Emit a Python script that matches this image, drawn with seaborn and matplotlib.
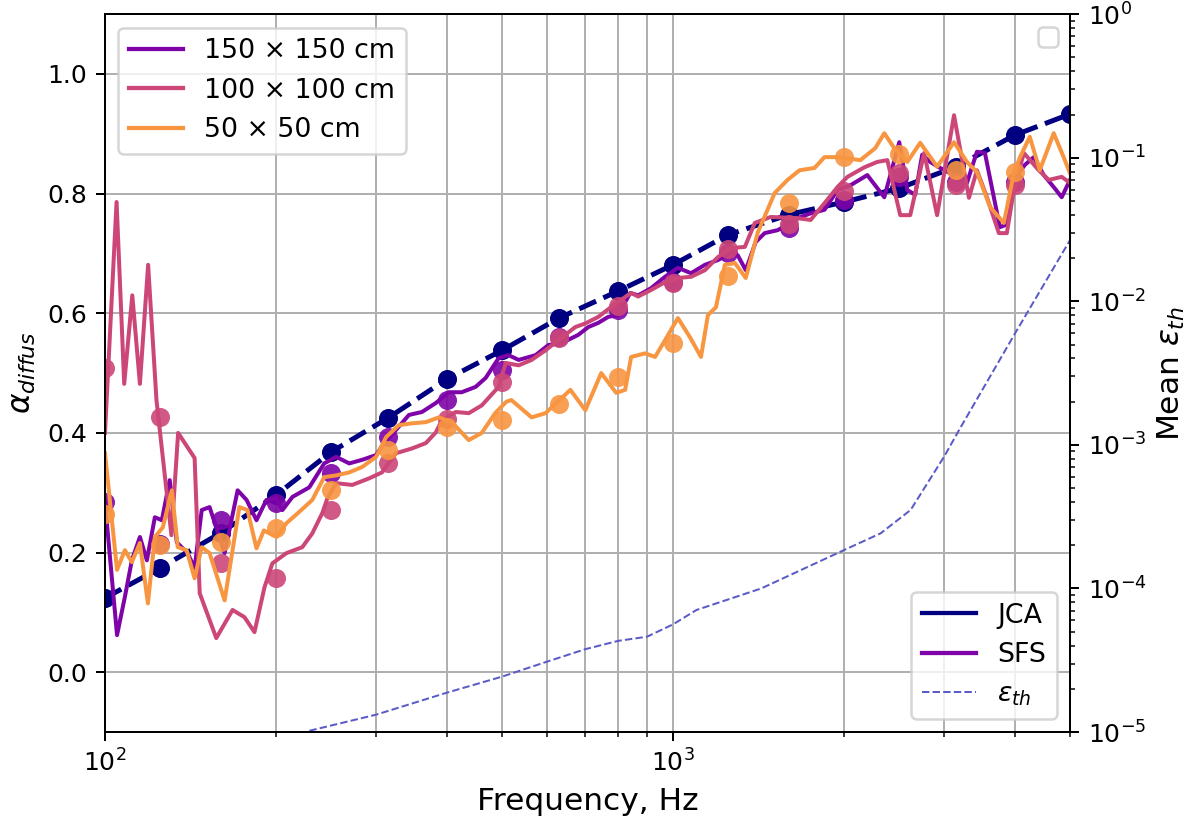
import numpy as np
import pandas as pd
import matplotlib
matplotlib.use("Agg")
import matplotlib.pyplot as plt
import seaborn as sns
from matplotlib.lines import Line2D

# ---------------- data ----------------
bands = [100, 125, 160, 200, 250, 315, 400, 500, 630, 800, 1000, 1250, 1600,
         2000, 2500, 3150, 4000, 5000]
jca = [0.124, 0.174, 0.233, 0.296, 0.368, 0.425, 0.490, 0.538, 0.592, 0.637,
       0.681, 0.731, 0.765, 0.786, 0.809, 0.845, 0.898, 0.933]

bands_sz = [100, 125, 160, 200, 250, 315, 400, 500, 630, 800, 1000, 1250, 1600,
            2000, 2500, 3150, 4000]
dots150 = [0.284, 0.215, 0.254, 0.282, 0.333, 0.393, 0.455, 0.505, 0.560, 0.605,
           0.652, 0.700, 0.742, 0.790, 0.828, 0.820, 0.820]
dots100 = [0.508, 0.427, 0.183, 0.157, 0.271, 0.349, 0.423, 0.485, 0.558, 0.612,
           0.651, 0.707, 0.750, 0.805, 0.834, 0.814, 0.814]
dots50 = [0.265, 0.212, 0.218, 0.241, 0.304, 0.371, 0.410, 0.421, 0.448, 0.493,
          0.551, 0.662, 0.784, 0.861, 0.867, 0.839, 0.836]

f150 = [100, 105.0, 108.4, 111.5, 115.2, 118.5, 122.4, 125.9, 130.0, 133.8, 139.8,
        143.8, 148.0, 152.8, 162.4, 171.2, 177.5, 184.8, 192.4, 200.4, 205.3, 213.8,
        228.9, 243.2, 255.3, 269.1, 283.6, 300.1, 309.9, 325.3, 342.8, 361.4, 382.4,
        402.9, 424.6, 449.3, 468.0, 493.2, 513.4, 534.9, 572.8, 603.6, 636.3, 681.4,
        709.5, 738.8, 769.1, 800.8, 840.6, 868.2, 915.1, 968.2, 1020, 1076, 1138,
        1200, 1265, 1300, 1343, 1398, 1450, 1529, 1677, 1747, 1848, 1948, 2053, 2198,
        2355, 2502, 2585, 2669, 2746, 2836, 2953, 3162, 3292, 3428, 3541, 3762, 3839,
        3981, 4163, 4317, 4495, 4680, 4834, 5000]
v150 = [0.284, 0.062, 0.126, 0.187, 0.226, 0.187, 0.259, 0.254, 0.321, 0.217, 0.199,
        0.174, 0.271, 0.276, 0.199, 0.304, 0.288, 0.254, 0.288, 0.290, 0.271, 0.293,
        0.309, 0.349, 0.360, 0.349, 0.355, 0.363, 0.383, 0.405, 0.430, 0.435, 0.450,
        0.468, 0.468, 0.477, 0.492, 0.525, 0.530, 0.522, 0.530, 0.547, 0.550, 0.564,
        0.577, 0.584, 0.594, 0.597, 0.634, 0.630, 0.642, 0.661, 0.676, 0.667, 0.681,
        0.689, 0.701, 0.697, 0.672, 0.719, 0.734, 0.739, 0.761, 0.767, 0.773, 0.806,
        0.814, 0.831, 0.794, 0.886, 0.806, 0.798, 0.865, 0.853, 0.843, 0.828, 0.818,
        0.870, 0.868, 0.744, 0.747, 0.823, 0.848, 0.861, 0.831, 0.811, 0.794, 0.823]

f100 = [100, 104.8, 108.1, 111.7, 115.2, 119.1, 123.2, 130.9, 134.5, 143.8, 146.8,
        157, 167.7, 176, 183.3, 190.9, 197.1, 208.6, 222.5, 231.7, 241.3, 246.2,
        255.3, 272.4, 291.7, 307.4, 325.3, 347.1, 367.2, 382.4, 391.8, 414.5, 436.9,
        460.6, 493.2, 507.4, 534.9, 563.6, 596.4, 633.8, 673.1, 701, 738.8, 794.3,
        843.9, 868.2, 915.1, 968.2, 1020, 1076, 1138, 1200, 1265, 1338, 1393, 1486,
        1657, 1747, 1848, 1948, 2028, 2172, 2289, 2384, 2512, 2616, 2768, 2917, 3124,
        3319, 3428, 3570, 3747, 3870, 3981, 4146, 4405, 4587, 4834, 5000]
v100 = [0.400, 0.786, 0.482, 0.630, 0.482, 0.681, 0.455, 0.229, 0.400, 0.358, 0.132,
        0.057, 0.104, 0.092, 0.067, 0.142, 0.182, 0.199, 0.209, 0.232, 0.266, 0.290,
        0.316, 0.313, 0.324, 0.334, 0.366, 0.374, 0.383, 0.401, 0.421, 0.435, 0.433,
        0.446, 0.477, 0.517, 0.513, 0.522, 0.538, 0.558, 0.577, 0.583, 0.594, 0.617,
        0.634, 0.628, 0.639, 0.652, 0.659, 0.661, 0.672, 0.694, 0.709, 0.711, 0.751,
        0.761, 0.759, 0.756, 0.784, 0.811, 0.828, 0.844, 0.853, 0.856, 0.764, 0.764,
        0.868, 0.764, 0.931, 0.793, 0.839, 0.794, 0.734, 0.734, 0.806, 0.868, 0.839,
        0.823, 0.828, 0.818]

f50 = [100, 105.0, 108.4, 111.5, 115.2, 119.0, 122.4, 126.4, 131.1, 134.3, 139.2,
       143.8, 148.0, 152.8, 162.4, 172.4, 178.2, 184.8, 190.4, 200.4, 208.6, 219.8,
       231.7, 243.2, 255.3, 269.1, 283.6, 300.1, 312.6, 329.0, 347.1, 367.2, 387.1,
       407.9, 436.9, 460.6, 486.3, 508.6, 519.3, 563.6, 596.4, 659.6, 700.9, 747.5,
       794.3, 823.6, 843.9, 893.0, 929.8, 968.2, 1020, 1071, 1120, 1152, 1190, 1234,
       1285, 1343, 1410, 1510, 1591, 1670, 1775, 1848, 1948, 2137, 2270, 2355, 2452,
       2585, 2724, 2917, 3124, 3292, 3428, 3614, 3824, 3981, 4078, 4247, 4422, 4680,
       4872, 5000]
v50 = [0.366, 0.171, 0.204, 0.184, 0.216, 0.115, 0.226, 0.242, 0.304, 0.209, 0.204,
       0.157, 0.209, 0.199, 0.120, 0.276, 0.271, 0.207, 0.237, 0.226, 0.249, 0.268,
       0.288, 0.326, 0.329, 0.334, 0.343, 0.360, 0.393, 0.413, 0.416, 0.418, 0.426,
       0.418, 0.388, 0.400, 0.433, 0.452, 0.455, 0.426, 0.433, 0.472, 0.438, 0.500,
       0.467, 0.472, 0.527, 0.533, 0.527, 0.555, 0.592, 0.560, 0.527, 0.597, 0.610,
       0.681, 0.684, 0.659, 0.735, 0.801, 0.823, 0.839, 0.843, 0.861, 0.861, 0.856,
       0.876, 0.901, 0.876, 0.853, 0.885, 0.845, 0.886, 0.853, 0.836, 0.778, 0.751,
       0.834, 0.860, 0.895, 0.839, 0.901, 0.861, 0.834]

eps_f = [229, 300, 400, 500, 600, 700, 800, 900, 1000, 1100, 1430, 2000, 2320, 2620,
         3000, 3200, 4000, 5000]
eps_v = [1.02e-5, 1.32e-5, 1.88e-5, 2.43e-5, 3.09e-5, 3.77e-5, 4.31e-5, 4.61e-5,
         5.62e-5, 7.08e-5, 1.0e-4, 1.85e-4, 2.42e-4, 3.52e-4, 8.26e-4, 1.30e-3,
         5.97e-3, 2.67e-2]

size_labels = ["150 × 150 cm", "100 × 100 cm", "50 × 50 cm"]

# ---------------- style ----------------
plt.rcParams["font.family"] = ["DejaVu Sans"]
plt.rcParams["font.size"] = 10

fig = plt.figure(figsize=(1200 / 180, 834 / 180), dpi=180)
ax = fig.add_axes([0.0875, 0.1223, 0.8042, 0.8607])

colors = plt.get_cmap("plasma")(np.linspace(0.25, 0.75, 3))
jca_col = "navy"
eps_col = "#5a5ac8"

# JCA
sns.lineplot(x=bands, y=jca, ax=ax, color=jca_col, lw=2.0, linestyle="--",
             estimator=None, sort=False, zorder=2)
sns.scatterplot(x=bands, y=jca, ax=ax, color=jca_col, s=58, linewidth=0, zorder=2.5)

series = [(f150, v150, dots150), (f100, v100, dots100), (f50, v50, dots50)]
for i, (ff, vv, dd) in enumerate(series):
    sns.lineplot(x=ff, y=vv, ax=ax, color=colors[i], lw=1.6, estimator=None,
                 sort=False, zorder=3 + i)
    sns.scatterplot(x=bands_sz, y=dd, ax=ax, color=colors[i], s=58, linewidth=0,
                    alpha=0.9, zorder=3.5 + i)

ax.set_xscale("log")
ax.set_xlim(100, 5000)
ax.set_ylim(-0.1, 1.1)
ax.set_yticks([0.0, 0.2, 0.4, 0.6, 0.8, 1.0])
ax.grid(True, which="both", color="#b0b0b0", lw=0.8)
ax.set_xlabel("Frequency, Hz", fontsize=12.5)
ax.set_ylabel(r"$\alpha_{diffus}$", fontsize=12.5)

# secondary axis
ax2 = ax.twinx()
sns.lineplot(x=eps_f, y=eps_v, ax=ax2, color=eps_col, lw=0.8, linestyle="--",
             estimator=None, sort=False)
ax2.set_yscale("log")
ax2.set_ylim(1e-5, 1)
ax2.set_ylabel(r"Mean $\varepsilon_{th}$", fontsize=12.5)

# legends
size_handles = [Line2D([], [], color=colors[i], lw=1.7, label=size_labels[i])
                for i in range(3)]
leg1 = ax2.legend(handles=size_handles, loc="upper left", fontsize=10.7)
ax2.add_artist(leg1)
meth_handles = [Line2D([], [], color=jca_col, lw=1.7, label="JCA"),
                Line2D([], [], color=colors[0], lw=1.7, label="SFS"),
                Line2D([], [], color=eps_col, lw=0.8, linestyle="--",
                       label=r"$\varepsilon_{th}$")]
leg2 = ax2.legend(handles=meth_handles, loc="lower right", fontsize=10.7)
ax2.add_artist(leg2)
ax2.legend(handles=[], loc="upper right")

fig.savefig("out.png", dpi=180)
